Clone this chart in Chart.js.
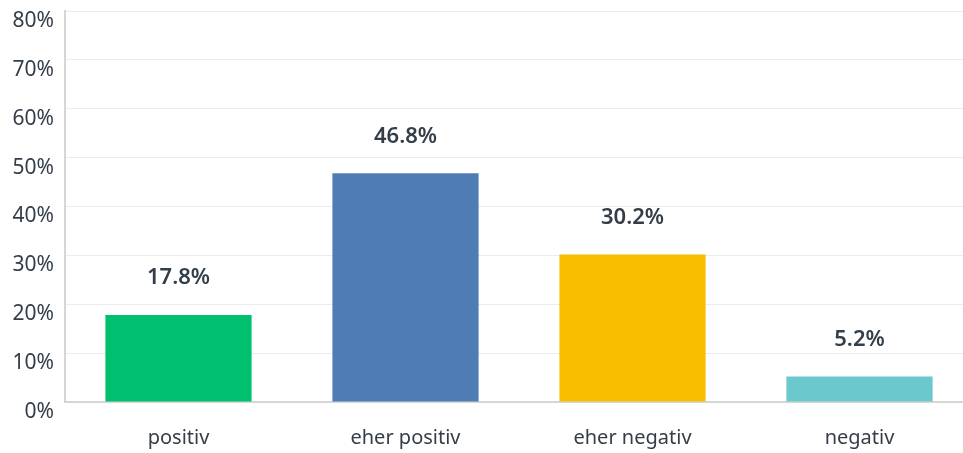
<!DOCTYPE html>
<html>
<head>
<meta charset="utf-8">
<script src="https://cdn.jsdelivr.net/npm/chart.js@4"></script>
<style>
  html, body { margin:0; padding:0; background:#fff; overflow:hidden; }
  #wrap { position:relative; width:973px; height:453px; }
</style>
</head>
<body>
<div id="wrap"><canvas id="chart"></canvas></div>
<script>
'use strict';

// ── data
const categories = ['positiv', 'eher positiv', 'eher negativ', 'negativ'];
const shares     = [17.8, 46.8, 30.2, 5.2];
const barColors  = ['#00bf6f', '#507cb6', '#f9be00', '#6bc8cd'];
const yTicks     = [0, 10, 20, 30, 40, 50, 60, 70, 80];

const TEXT = '#333e48';
const FONT = '"Noto Sans", "Open Sans", sans-serif';

// value labels above bars
const valueLabels = {
  id: 'valueLabels',
  afterDatasetsDraw(chart) {
    const ctx  = chart.ctx;
    const meta = chart.getDatasetMeta(0);
    ctx.save();
    ctx.font = '600 22px ' + FONT;
    ctx.fillStyle = TEXT;
    ctx.textAlign = 'center';
    ctx.textBaseline = 'middle';
    meta.data.forEach((bar, i) => {
      ctx.fillText(shares[i].toFixed(1) + '%', bar.x, bar.y - 37);
    });
    ctx.restore();
  }
};

new Chart(document.getElementById('chart'), {
  type: 'bar',
  data: {
    labels: categories,
    datasets: [{
      data: shares,
      backgroundColor: barColors,
      borderWidth: 0,
      barPercentage: 0.644,
      categoryPercentage: 1.0
    }]
  },
  options: {
    responsive: true,
    maintainAspectRatio: false,
    animation: false,
    layout: { padding: { top: 11, right: 0, left: 0, bottom: 0 } },
    plugins: { legend: { display: false }, tooltip: { enabled: false } },
    scales: {
      x: {
        grid: { display: false, drawTicks: false },
        border: { color: '#d6d6d6', width: 2 },
        ticks: { color: TEXT, font: { family: FONT, size: 20 }, padding: 24 },
        afterFit: s => { s.height = 51; s.paddingLeft = 0; s.paddingRight = 0; }
      },
      y: {
        min: 0, max: 80,
        afterBuildTicks: s => { s.ticks = yTicks.map(v => ({ value: v })); },
        grid: { color: '#ebebeb', lineWidth: 1, drawTicks: false },
        border: { color: '#d6d6d6', width: 2 },
        ticks: {
          color: TEXT,
          font: { family: FONT, size: 21 },
          padding: 11,
          labelOffset: 10,
          callback: v => v + '%'
        },
        afterFit: s => { s.width = 65; s.paddingTop = 0; s.paddingBottom = 0; }
      }
    }
  },
  plugins: [valueLabels]
});
</script>
</body>
</html>
